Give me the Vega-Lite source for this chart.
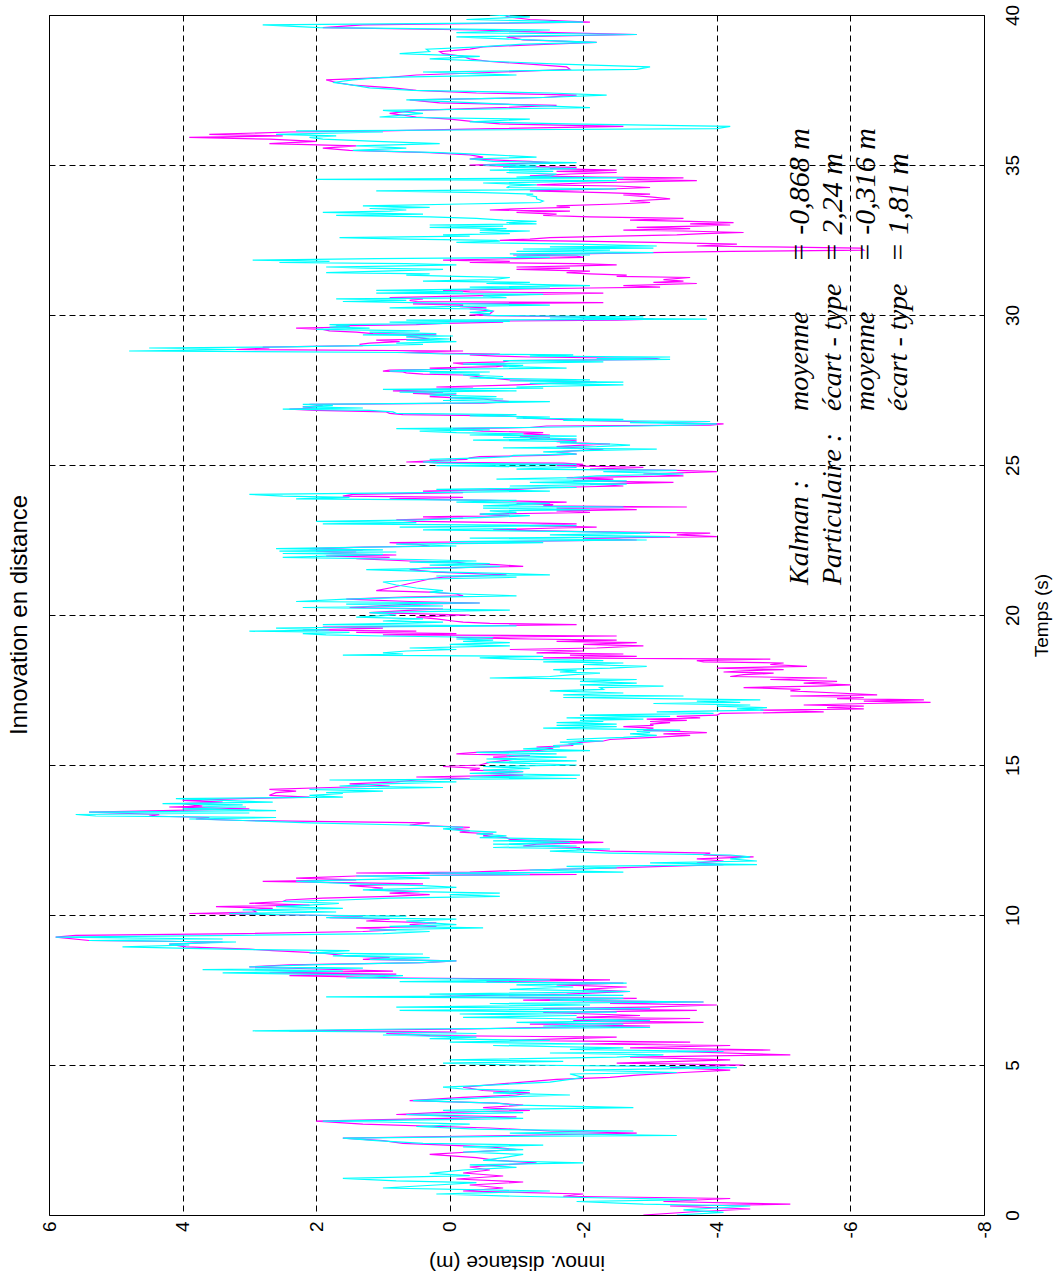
{
"$schema": "https://vega.github.io/schema/vega-lite/v6.json",
"width": 935, "height": 1200,
"autosize": {"type": "none"},
"padding": {"left": 49, "top": 15, "right": 74, "bottom": 59},
"background": "white",
"title": {"text": "Innovation en distance", "orient": "left", "anchor": "middle", "font": "Liberation Sans", "fontSize": 24, "fontWeight": "normal", "color": "black", "offset": 8},
"config": {
 "view": {"stroke": "black", "strokeWidth": 1},
 "axis": {"grid": true, "gridColor": "black", "gridDash": [6, 4], "gridWidth": 1, "gridOpacity": 1, "domain": false, "ticks": false, "labelFont": "Liberation Sans", "labelFontSize": 19, "labelColor": "black", "labelFlush": false, "labelOverlap": false, "titleFont": "Liberation Sans", "titleFontWeight": "normal", "titleColor": "black"},
 "axisX": {"labelAngle": -90, "labelAlign": "right", "labelBaseline": "middle", "labelPadding": 6, "labelExpr": "'' + datum.value", "titleAngle": 180, "titleBaseline": "middle", "titleY": 46, "titleFontSize": 21},
 "axisY": {"labelAngle": -90, "labelAlign": "center", "labelBaseline": "top", "labelPadding": 19, "labelExpr": "'' + datum.value", "titleAngle": -90, "titleBaseline": "middle", "titleX": 57, "titleY": 600, "titleFontSize": 19}
},
"datasets": {
"kalman": [
{"t":0,"v":-2.9},{"t":0.1,"v":-3.6},{"t":0.2,"v":-4.5},{"t":0.3,"v":-3.3},{"t":0.36,"v":-5.1},{"t":0.45,"v":-3.2},{"t":0.55,"v":-4.2},{"t":0.625,"v":-1.7},{"t":0.7,"v":-2.0},{"t":0.8,"v":-0.2},{"t":0.9,"v":-0.8},{"t":1.0,"v":-0.3},{"t":1.1,"v":-1.1},{"t":1.2,"v":-0.1},{"t":1.3,"v":-0.8},{"t":1.4,"v":-0.2},{"t":1.5,"v":-0.6},{"t":1.6,"v":-0.3},{"t":1.74,"v":-1.3},{"t":1.82,"v":-0.7},{"t":1.91,"v":-0.4},{"t":2.02,"v":0.3},{"t":2.1,"v":-0.3},{"t":2.18,"v":-1.0},{"t":2.27,"v":-0.6},{"t":2.39,"v":0.7},{"t":2.48,"v":1.0},{"t":2.56,"v":1.6},{"t":2.65,"v":-0.9},{"t":2.73,"v":-2.8},{"t":2.8,"v":-1.5},{"t":2.9,"v":-0.6},{"t":3.03,"v":1.3},{"t":3.13,"v":2.0},{"t":3.18,"v":1.0},{"t":3.27,"v":-1.0},{"t":3.35,"v":0.8},{"t":3.41,"v":0.2},{"t":3.49,"v":-1.2},{"t":3.58,"v":-0.5},{"t":3.66,"v":-1.1},{"t":3.73,"v":-0.7},{"t":3.81,"v":0.6},{"t":3.92,"v":-0.2},{"t":4.0,"v":-1.0},{"t":4.07,"v":-1.2},{"t":4.15,"v":-0.5},{"t":4.26,"v":-0.2},{"t":4.34,"v":-0.6},{"t":4.43,"v":-1.1},{"t":4.52,"v":-1.6},{"t":4.59,"v":-2.4},{"t":4.66,"v":-2.8},{"t":4.75,"v":-3.5},{"t":4.83,"v":-4.2},{"t":4.91,"v":-3.3},{"t":5.0,"v":-4.4},
{"t":5.06,"v":-2.5},{"t":5.17,"v":-4.2},{"t":5.26,"v":-2.7},{"t":5.34,"v":-5.1},{"t":5.45,"v":-3.4},{"t":5.5,"v":-4.8},{"t":5.57,"v":-2.7},{"t":5.65,"v":-4.2},{"t":5.7,"v":-2.0},{"t":5.76,"v":-3.6},{"t":5.82,"v":-0.9},{"t":5.93,"v":-2.5},{"t":5.98,"v":0.3},{"t":6.05,"v":0.95},{"t":6.1,"v":-0.1},{"t":6.14,"v":2.4},{"t":6.2,"v":-0.3},{"t":6.25,"v":-1.3},{"t":6.3,"v":-3.0},{"t":6.36,"v":-1.2},{"t":6.42,"v":-3.8},{"t":6.48,"v":-1.85},{"t":6.55,"v":-3.6},{"t":6.59,"v":-1.9},{"t":6.65,"v":-2.85},{"t":6.75,"v":-1.4},{"t":6.82,"v":-3.7},{"t":6.88,"v":-1.4},{"t":6.93,"v":-2.95},{"t":7.0,"v":-4.0},{"t":7.05,"v":-2.4},{"t":7.1,"v":-3.8},{"t":7.16,"v":-1.1},{"t":7.22,"v":-2.8},{"t":7.27,"v":0.3},{"t":7.32,"v":-0.5},{"t":7.36,"v":-1.75},{"t":7.45,"v":-2.7},{"t":7.52,"v":-2.0},{"t":7.6,"v":-2.65},{"t":7.67,"v":-1.6},{"t":7.73,"v":-2.6},{"t":7.78,"v":-0.55},{"t":7.84,"v":-2.4},{"t":7.9,"v":0.65},{"t":7.98,"v":2.4},{"t":8.03,"v":0.8},{"t":8.07,"v":2.7},{"t":8.13,"v":0.85},{"t":8.2,"v":2.0},{"t":8.27,"v":3.0},{"t":8.34,"v":2.4},{"t":8.41,"v":0.4},{"t":8.47,"v":-0.1},{"t":8.52,"v":1.3},{"t":8.58,"v":0.9},{"t":8.64,"v":1.55},{"t":8.73,"v":1.9},{"t":8.81,"v":2.65},{"t":8.86,"v":3.0},{"t":8.94,"v":3.95},{"t":9.03,"v":4.2},{"t":9.1,"v":3.4},{"t":9.15,"v":5.4},{"t":9.26,"v":5.9},{"t":9.32,"v":5.6},{"t":9.38,"v":3.1},{"t":9.45,"v":1.3},{"t":9.5,"v":0.8},{"t":9.57,"v":1.4},{"t":9.62,"v":0.2},{"t":9.68,"v":0.6},{"t":9.74,"v":0.2},{"t":9.8,"v":1.25},{"t":9.86,"v":0.9},{"t":9.91,"v":1.8},{"t":9.96,"v":1.3},{"t":10.0,"v":2.3},
{"t":10.05,"v":3.9},{"t":10.1,"v":2.9},{"t":10.17,"v":2.95},{"t":10.22,"v":2.65},{"t":10.28,"v":3.5},{"t":10.33,"v":2.1},{"t":10.39,"v":3.0},{"t":10.45,"v":2.5},{"t":10.5,"v":2.45},{"t":10.56,"v":1.9},{"t":10.62,"v":0.9},{"t":10.68,"v":0.3},{"t":10.73,"v":0.9},{"t":10.78,"v":0.45},{"t":10.84,"v":1.2},{"t":10.9,"v":1.0},{"t":10.98,"v":1.5},{"t":11.04,"v":0.4},{"t":11.12,"v":2.8},{"t":11.17,"v":1.4},{"t":11.23,"v":2.3},{"t":11.3,"v":1.4},{"t":11.35,"v":-1.9},{"t":11.4,"v":1.4},{"t":11.43,"v":-0.3},{"t":11.5,"v":-1.2},{"t":11.57,"v":-2.5},{"t":11.62,"v":-3.2},{"t":11.68,"v":-4.1},{"t":11.74,"v":-3.7},{"t":11.8,"v":-4.1},{"t":11.87,"v":-3.7},{"t":11.94,"v":-4.55},{"t":12.0,"v":-3.8},{"t":12.06,"v":-3.9},{"t":12.13,"v":-2.4},{"t":12.2,"v":-1.9},{"t":12.25,"v":-1.95},{"t":12.3,"v":-1.1},{"t":12.36,"v":-1.3},{"t":12.42,"v":-2.3},{"t":12.47,"v":-1.4},{"t":12.52,"v":-0.9},{"t":12.58,"v":-0.85},{"t":12.64,"v":-0.5},{"t":12.7,"v":-0.65},{"t":12.76,"v":-0.15},{"t":12.81,"v":-0.3},{"t":12.87,"v":0.0},{"t":12.92,"v":-0.3},{"t":13.0,"v":0.6},{"t":13.07,"v":0.3},{"t":13.15,"v":3.1},{"t":13.2,"v":3.8},{"t":13.25,"v":3.6},{"t":13.3,"v":4.5},{"t":13.35,"v":4.35},{"t":13.43,"v":5.4},{"t":13.48,"v":4.3},{"t":13.54,"v":3.0},{"t":13.6,"v":4.2},{"t":13.63,"v":3.7},{"t":13.71,"v":4.0},{"t":13.76,"v":3.4},{"t":13.82,"v":4.0},{"t":13.88,"v":3.1},{"t":13.93,"v":2.1},{"t":13.99,"v":2.7},{"t":14.08,"v":2.6},{"t":14.13,"v":2.3},{"t":14.19,"v":2.7},{"t":14.25,"v":1.8},{"t":14.3,"v":0.9},{"t":14.37,"v":1.5},{"t":14.44,"v":0.8},{"t":14.5,"v":0.5},{"t":14.55,"v":-0.3},{"t":14.6,"v":0.5},{"t":14.66,"v":-1.1},{"t":14.72,"v":-0.6},{"t":14.78,"v":-1.1},{"t":14.83,"v":-0.3},{"t":14.89,"v":-0.45},{"t":14.95,"v":0.1},{"t":15.0,"v":-0.45},
{"t":15.09,"v":-0.6},{"t":15.2,"v":-1.0},{"t":15.26,"v":-0.65},{"t":15.31,"v":-1.2},{"t":15.37,"v":-0.1},{"t":15.42,"v":-0.4},{"t":15.48,"v":-1.3},{"t":15.54,"v":-1.55},{"t":15.6,"v":-1.3},{"t":15.65,"v":-1.85},{"t":15.7,"v":-1.8},{"t":15.76,"v":-2.0},{"t":15.8,"v":-2.3},{"t":15.85,"v":-2.4},{"t":15.92,"v":-3.05},{"t":15.99,"v":-3.6},{"t":16.04,"v":-3.2},{"t":16.08,"v":-3.85},{"t":16.12,"v":-3.4},{"t":16.16,"v":-2.9},{"t":16.23,"v":-3.05},{"t":16.28,"v":-2.6},{"t":16.32,"v":-3.05},{"t":16.36,"v":-3.0},{"t":16.41,"v":-3.3},{"t":16.45,"v":-3.0},{"t":16.49,"v":-3.55},{"t":16.53,"v":-2.95},{"t":16.57,"v":-3.75},{"t":16.62,"v":-3.4},{"t":16.66,"v":-4.0},{"t":16.72,"v":-4.05},{"t":16.77,"v":-5.6},{"t":16.83,"v":-4.65},{"t":16.87,"v":-6.2},{"t":16.91,"v":-5.65},{"t":16.96,"v":-6.2},{"t":17.0,"v":-5.3},{"t":17.05,"v":-6.25},{"t":17.09,"v":-7.2},{"t":17.13,"v":-6.2},{"t":17.17,"v":-7.1},{"t":17.21,"v":-5.8},{"t":17.25,"v":-6.2},{"t":17.3,"v":-5.1},{"t":17.34,"v":-6.4},{"t":17.4,"v":-5.8},{"t":17.47,"v":-5.1},{"t":17.52,"v":-5.25},{"t":17.58,"v":-4.4},{"t":17.63,"v":-5.5},{"t":17.67,"v":-6.0},{"t":17.73,"v":-5.3},{"t":17.79,"v":-5.8},{"t":17.85,"v":-4.8},{"t":17.9,"v":-5.65},{"t":17.95,"v":-4.2},{"t":18.01,"v":-4.4},{"t":18.06,"v":-4.85},{"t":18.1,"v":-4.1},{"t":18.14,"v":-4.4},{"t":18.18,"v":-5.0},{"t":18.23,"v":-4.0},{"t":18.29,"v":-5.35},{"t":18.35,"v":-4.8},{"t":18.4,"v":-5.0},{"t":18.44,"v":-3.8},{"t":18.48,"v":-3.7},{"t":18.53,"v":-4.8},{"t":18.57,"v":-1.4},{"t":18.62,"v":-2.8},{"t":18.66,"v":-1.8},{"t":18.7,"v":-2.6},{"t":18.74,"v":-1.3},{"t":18.8,"v":-2.0},{"t":18.85,"v":-0.9},{"t":18.9,"v":-2.2},{"t":18.97,"v":-2.9},{"t":19.02,"v":-2.0},{"t":19.08,"v":-2.8},{"t":19.12,"v":-1.6},{"t":19.16,"v":-2.5},{"t":19.2,"v":-1.2},{"t":19.25,"v":-0.1},{"t":19.3,"v":-2.5},{"t":19.34,"v":1.0},{"t":19.38,"v":-0.1},{"t":19.42,"v":1.4},{"t":19.46,"v":0.5},{"t":19.5,"v":2.2},{"t":19.56,"v":1.0},{"t":19.6,"v":1.9},{"t":19.64,"v":-0.2},{"t":19.68,"v":-1.9},{"t":19.72,"v":-0.6},{"t":19.76,"v":-0.2},{"t":19.8,"v":-0.05},{"t":19.87,"v":0.2},{"t":19.93,"v":0.5},{"t":20.0,"v":-0.3},
{"t":20.08,"v":1.2},{"t":20.16,"v":0.55},{"t":20.2,"v":0.1},{"t":20.25,"v":1.5},{"t":20.3,"v":1.1},{"t":20.36,"v":0.55},{"t":20.4,"v":-0.45},{"t":20.45,"v":0.6},{"t":20.53,"v":1.55},{"t":20.6,"v":0.7},{"t":20.64,"v":-0.2},{"t":20.7,"v":-0.1},{"t":20.76,"v":0.3},{"t":20.81,"v":1.1},{"t":20.9,"v":0.9},{"t":21.0,"v":0.7},{"t":21.1,"v":0.5},{"t":21.2,"v":0.3},{"t":21.26,"v":0.1},{"t":21.34,"v":-0.85},{"t":21.43,"v":0.2},{"t":21.51,"v":0.6},{"t":21.56,"v":0.4},{"t":21.62,"v":-1.1},{"t":21.68,"v":-0.7},{"t":21.71,"v":-0.25},{"t":21.76,"v":-0.1},{"t":21.8,"v":0.6},{"t":21.88,"v":1.4},{"t":21.92,"v":0.9},{"t":21.96,"v":1.85},{"t":22.0,"v":0.8},{"t":22.05,"v":1.9},{"t":22.1,"v":1.4},{"t":22.13,"v":2.0},{"t":22.17,"v":1.3},{"t":22.21,"v":2.1},{"t":22.26,"v":1.3},{"t":22.3,"v":0.3},{"t":22.36,"v":0.5},{"t":22.41,"v":0.9},{"t":22.45,"v":-0.9},{"t":22.5,"v":-2.8},{"t":22.56,"v":-2.0},{"t":22.61,"v":-4.0},{"t":22.67,"v":-3.4},{"t":22.73,"v":-3.9},{"t":22.78,"v":-2.0},{"t":22.84,"v":-0.65},{"t":22.9,"v":-1.6},{"t":22.93,"v":-2.2},{"t":22.98,"v":-1.2},{"t":23.04,"v":-1.9},{"t":23.08,"v":-0.9},{"t":23.12,"v":0.5},{"t":23.17,"v":0.8},{"t":23.23,"v":-0.2},{"t":23.27,"v":0.4},{"t":23.31,"v":-0.9},{"t":23.36,"v":-0.45},{"t":23.42,"v":-2.1},{"t":23.47,"v":-1.6},{"t":23.51,"v":-2.8},{"t":23.56,"v":-1.6},{"t":23.6,"v":-3.55},{"t":23.64,"v":-1.4},{"t":23.68,"v":-1.55},{"t":23.72,"v":-1.0},{"t":23.76,"v":-1.75},{"t":23.82,"v":-0.6},{"t":23.87,"v":0.9},{"t":23.92,"v":-0.2},{"t":23.96,"v":1.6},{"t":24.02,"v":1.45},{"t":24.08,"v":-0.2},{"t":24.13,"v":0.4},{"t":24.19,"v":-1.0},{"t":24.25,"v":-1.5},{"t":24.3,"v":-2.6},{"t":24.36,"v":-2.1},{"t":24.42,"v":-3.35},{"t":24.47,"v":-1.85},{"t":24.53,"v":-2.45},{"t":24.58,"v":-1.75},{"t":24.64,"v":-3.5},{"t":24.7,"v":-2.9},{"t":24.78,"v":-4.0},{"t":24.82,"v":-3.4},{"t":24.86,"v":-2.1},{"t":24.92,"v":-2.9},{"t":24.98,"v":-1.6},
{"t":25.02,"v":-2.0},{"t":25.06,"v":-1.7},{"t":25.1,"v":0.65},{"t":25.15,"v":0.2},{"t":25.19,"v":-0.25},{"t":25.24,"v":-0.3},{"t":25.28,"v":-0.45},{"t":25.32,"v":-1.4},{"t":25.36,"v":-1.9},{"t":25.44,"v":-1.6},{"t":25.53,"v":-2.3},{"t":25.57,"v":-1.9},{"t":25.61,"v":-1.6},{"t":25.66,"v":-2.0},{"t":25.7,"v":-2.4},{"t":25.74,"v":-1.9},{"t":25.78,"v":-1.6},{"t":25.83,"v":-1.9},{"t":25.87,"v":-1.2},{"t":25.92,"v":-1.5},{"t":25.96,"v":-1.05},{"t":26.0,"v":-1.5},{"t":26.04,"v":-1.1},{"t":26.08,"v":-1.4},{"t":26.13,"v":-0.5},{"t":26.17,"v":-0.2},{"t":26.21,"v":-0.05},{"t":26.25,"v":-1.2},{"t":26.3,"v":-1.45},{"t":26.33,"v":-3.9},{"t":26.37,"v":-4.1},{"t":26.41,"v":-3.2},{"t":26.45,"v":-2.65},{"t":26.49,"v":-2.0},{"t":26.52,"v":-1.65},{"t":26.56,"v":-1.1},{"t":26.6,"v":-1.15},{"t":26.64,"v":-0.8},{"t":26.68,"v":0.7},{"t":26.72,"v":0.9},{"t":26.77,"v":0.95},{"t":26.82,"v":2.0},{"t":26.86,"v":2.4},{"t":26.9,"v":2.0},{"t":26.94,"v":2.2},{"t":26.98,"v":1.9},{"t":27.02,"v":2.1},{"t":27.06,"v":-0.5},{"t":27.11,"v":-0.9},{"t":27.15,"v":-0.7},{"t":27.2,"v":-0.5},{"t":27.24,"v":-0.1},{"t":27.28,"v":0.3},{"t":27.33,"v":-0.1},{"t":27.39,"v":0.55},{"t":27.43,"v":0.1},{"t":27.47,"v":0.85},{"t":27.52,"v":0.2},{"t":27.56,"v":-0.35},{"t":27.6,"v":0.2},{"t":27.67,"v":-1.0},{"t":27.72,"v":-1.5},{"t":27.76,"v":-2.2},{"t":27.8,"v":-1.7},{"t":27.84,"v":-0.9},{"t":27.9,"v":-0.6},{"t":27.95,"v":-0.4},{"t":28.0,"v":-0.2},{"t":28.03,"v":0.4},{"t":28.07,"v":0.65},{"t":28.1,"v":0.7},{"t":28.13,"v":1.0},{"t":28.16,"v":0.9},{"t":28.2,"v":-0.1},{"t":28.23,"v":0.3},{"t":28.28,"v":-0.7},{"t":28.32,"v":-0.85},{"t":28.36,"v":-0.2},{"t":28.4,"v":-0.05},{"t":28.44,"v":-0.8},{"t":28.48,"v":-0.9},{"t":28.52,"v":-3.15},{"t":28.55,"v":-3.1},{"t":28.6,"v":-1.2},{"t":28.63,"v":-0.7},{"t":28.67,"v":-0.3},{"t":28.7,"v":-0.75},{"t":28.75,"v":0.8},{"t":28.8,"v":-0.2},{"t":28.85,"v":3.2},{"t":28.9,"v":2.7},{"t":28.93,"v":2.8},{"t":28.98,"v":1.3},{"t":29.02,"v":1.35},{"t":29.06,"v":1.2},{"t":29.11,"v":0.75},{"t":29.16,"v":1.1},{"t":29.2,"v":0.3},{"t":29.26,"v":0.5},{"t":29.3,"v":0.65},{"t":29.34,"v":0.2},{"t":29.38,"v":1.15},{"t":29.43,"v":1.4},{"t":29.47,"v":1.8},{"t":29.52,"v":1.9},{"t":29.56,"v":2.3},{"t":29.6,"v":1.5},{"t":29.64,"v":1.7},{"t":29.68,"v":0.5},{"t":29.72,"v":0.1},{"t":29.76,"v":-0.8},{"t":29.79,"v":-0.3},{"t":29.83,"v":-2.5},{"t":29.86,"v":-3.05},{"t":29.9,"v":-2.0},{"t":29.94,"v":-1.9},{"t":29.98,"v":-0.6},
{"t":30.0,"v":-0.3},{"t":30.04,"v":-0.6},{"t":30.13,"v":-0.65},{"t":30.2,"v":-0.3},{"t":30.24,"v":-0.55},{"t":30.28,"v":-0.15},{"t":30.33,"v":-0.2},{"t":30.37,"v":0.55},{"t":30.41,"v":-2.3},{"t":30.45,"v":0.5},{"t":30.49,"v":0.6},{"t":30.54,"v":0.4},{"t":30.58,"v":0.9},{"t":30.64,"v":-0.3},{"t":30.69,"v":-1.2},{"t":30.73,"v":-2.3},{"t":30.77,"v":-0.3},{"t":30.82,"v":0.1},{"t":30.86,"v":-0.85},{"t":30.9,"v":-2.1},{"t":30.93,"v":-3.15},{"t":30.98,"v":-2.6},{"t":31.05,"v":-3.7},{"t":31.09,"v":-3.05},{"t":31.13,"v":-3.5},{"t":31.18,"v":-3.2},{"t":31.25,"v":-3.6},{"t":31.29,"v":-2.5},{"t":31.33,"v":-2.65},{"t":31.37,"v":-2.1},{"t":31.41,"v":-1.75},{"t":31.46,"v":-2.1},{"t":31.52,"v":-1.0},{"t":31.56,"v":-1.8},{"t":31.6,"v":-1.0},{"t":31.64,"v":-1.9},{"t":31.67,"v":-2.5},{"t":31.71,"v":-1.9},{"t":31.75,"v":-0.3},{"t":31.79,"v":-0.9},{"t":31.83,"v":0.1},{"t":31.88,"v":-1.0},{"t":31.92,"v":-2.0},{"t":31.96,"v":-1.9},{"t":32.0,"v":-0.95},{"t":32.04,"v":-1.9},{"t":32.08,"v":-3.0},{"t":32.12,"v":-4.2},{"t":32.16,"v":-6.2},{"t":32.23,"v":-6.15},{"t":32.27,"v":-4.8},{"t":32.3,"v":-3.7},{"t":32.36,"v":-4.3},{"t":32.42,"v":-3.05},{"t":32.46,"v":-1.9},{"t":32.49,"v":-0.75},{"t":32.53,"v":-1.2},{"t":32.58,"v":-1.5},{"t":32.63,"v":-2.5},{"t":32.67,"v":-3.4},{"t":32.71,"v":-3.8},{"t":32.75,"v":-4.4},{"t":32.8,"v":-3.5},{"t":32.83,"v":-2.6},{"t":32.88,"v":-3.6},{"t":32.92,"v":-2.8},{"t":32.96,"v":-3.7},{"t":33.0,"v":-4.2},{"t":33.04,"v":-3.6},{"t":33.08,"v":-4.25},{"t":33.12,"v":-3.6},{"t":33.16,"v":-2.7},{"t":33.22,"v":-3.5},{"t":33.27,"v":-2.1},{"t":33.32,"v":-1.4},{"t":33.36,"v":-1.6},{"t":33.42,"v":-1.0},{"t":33.46,"v":-1.8},{"t":33.5,"v":-0.6},{"t":33.55,"v":-1.1},{"t":33.59,"v":-1.8},{"t":33.64,"v":-1.6},{"t":33.7,"v":-2.5},{"t":33.75,"v":-3.0},{"t":33.8,"v":-2.7},{"t":33.87,"v":-3.3},{"t":33.94,"v":-3.0},{"t":34.0,"v":-2.6},{"t":34.03,"v":-3.0},{"t":34.08,"v":-2.3},{"t":34.14,"v":-1.2},{"t":34.2,"v":-2.4},{"t":34.25,"v":-3.0},{"t":34.3,"v":-2.5},{"t":34.34,"v":-1.3},{"t":34.4,"v":-2.0},{"t":34.48,"v":-3.7},{"t":34.52,"v":-2.5},{"t":34.57,"v":-3.5},{"t":34.6,"v":-2.2},{"t":34.64,"v":-1.2},{"t":34.7,"v":-1.8},{"t":34.75,"v":-2.5},{"t":34.79,"v":-1.6},{"t":34.83,"v":-2.5},{"t":34.88,"v":-1.5},{"t":34.92,"v":-1.9},{"t":34.96,"v":-0.8},{"t":35.0,"v":-0.3},
{"t":35.08,"v":-1.5},{"t":35.12,"v":-1.2},{"t":35.2,"v":-0.3},{"t":35.26,"v":-0.5},{"t":35.34,"v":-0.3},{"t":35.41,"v":0.3},{"t":35.49,"v":1.5},{"t":35.56,"v":1.9},{"t":35.64,"v":1.4},{"t":35.71,"v":2.7},{"t":35.79,"v":2.0},{"t":35.86,"v":2.7},{"t":35.92,"v":3.9},{"t":35.97,"v":2.5},{"t":36.02,"v":3.6},{"t":36.1,"v":2.4},{"t":36.14,"v":1.0},{"t":36.21,"v":-0.65},{"t":36.29,"v":-2.6},{"t":36.37,"v":-0.75},{"t":36.44,"v":-0.4},{"t":36.53,"v":0.0},{"t":36.6,"v":0.5},{"t":36.72,"v":0.9},{"t":36.82,"v":0.5},{"t":36.91,"v":-0.75},{"t":36.99,"v":-1.6},{"t":37.07,"v":0.15},{"t":37.17,"v":0.6},{"t":37.25,"v":-1.4},{"t":37.33,"v":-1.9},{"t":37.4,"v":-0.4},{"t":37.49,"v":0.5},{"t":37.57,"v":0.85},{"t":37.66,"v":1.45},{"t":37.75,"v":1.7},{"t":37.84,"v":1.85},{"t":37.92,"v":0.9},{"t":38.0,"v":0.5},{"t":38.1,"v":-0.8},{"t":38.19,"v":-1.8},{"t":38.27,"v":-1.75},{"t":38.36,"v":-1.2},{"t":38.45,"v":-0.6},{"t":38.54,"v":-0.3},{"t":38.62,"v":-0.2},{"t":38.71,"v":0.1},{"t":38.78,"v":0.15},{"t":38.86,"v":-0.3},{"t":38.94,"v":-0.5},{"t":39.03,"v":-1.5},{"t":39.09,"v":-2.2},{"t":39.17,"v":-1.1},{"t":39.27,"v":-0.85},{"t":39.35,"v":-2.8},{"t":39.41,"v":-1.6},{"t":39.5,"v":-0.4},{"t":39.58,"v":1.9},{"t":39.67,"v":1.3},{"t":39.76,"v":-2.1},{"t":39.85,"v":-1.2},{"t":39.94,"v":-0.85},{"t":40.0,"v":-0.9}
],
"part": [
{"t":0,"v":-3.4},{"t":0.09,"v":-4.1},{"t":0.17,"v":-3.5},{"t":0.3,"v":-4.5},{"t":0.36,"v":-2.9},{"t":0.45,"v":-1.9},{"t":0.51,"v":-3.7},{"t":0.625,"v":-1.0},{"t":0.7,"v":0.2},{"t":0.8,"v":-1.5},{"t":0.9,"v":1.0},{"t":1.0,"v":0.2},{"t":1.08,"v":-0.4},{"t":1.14,"v":0.8},{"t":1.22,"v":1.6},{"t":1.31,"v":-0.3},{"t":1.39,"v":0.3},{"t":1.5,"v":-0.2},{"t":1.59,"v":-1.0},{"t":1.67,"v":-0.3},{"t":1.74,"v":-2.0},{"t":1.82,"v":-0.5},{"t":1.91,"v":-0.8},{"t":2.02,"v":-1.1},{"t":2.1,"v":-0.2},{"t":2.18,"v":-1.1},{"t":2.27,"v":-0.2},{"t":2.33,"v":-1.4},{"t":2.39,"v":0.4},{"t":2.48,"v":1.1},{"t":2.56,"v":1.6},{"t":2.62,"v":-0.9},{"t":2.65,"v":-3.4},{"t":2.73,"v":-0.9},{"t":2.8,"v":-2.75},{"t":2.86,"v":-0.4},{"t":2.95,"v":0.5},{"t":3.03,"v":-0.3},{"t":3.1,"v":1.0},{"t":3.13,"v":1.9},{"t":3.18,"v":0.1},{"t":3.22,"v":-1.1},{"t":3.27,"v":-0.2},{"t":3.35,"v":0.65},{"t":3.41,"v":-1.1},{"t":3.49,"v":0.1},{"t":3.54,"v":-1.3},{"t":3.58,"v":-2.75},{"t":3.66,"v":-1.0},{"t":3.73,"v":-0.7},{"t":3.81,"v":0.55},{"t":3.87,"v":-0.2},{"t":3.92,"v":-0.6},{"t":4.0,"v":-1.8},{"t":4.07,"v":-0.65},{"t":4.15,"v":-1.2},{"t":4.2,"v":-0.2},{"t":4.26,"v":0.1},{"t":4.34,"v":-0.7},{"t":4.43,"v":-1.5},{"t":4.52,"v":-1.8},{"t":4.59,"v":-2.0},{"t":4.7,"v":-1.8},{"t":4.75,"v":-3.4},{"t":4.83,"v":-2.0},{"t":4.91,"v":-4.3},{"t":4.96,"v":-2.7},{"t":5.0,"v":-1.0},
{"t":5.06,"v":0.1},{"t":5.12,"v":-1.7},{"t":5.17,"v":0.0},{"t":5.26,"v":-2.5},{"t":5.34,"v":-3.2},{"t":5.4,"v":-1.5},{"t":5.45,"v":-4.1},{"t":5.52,"v":-1.8},{"t":5.57,"v":-2.6},{"t":5.65,"v":-0.65},{"t":5.7,"v":-2.1},{"t":5.76,"v":0.0},{"t":5.82,"v":-1.5},{"t":5.88,"v":0.3},{"t":5.93,"v":-0.4},{"t":6.0,"v":1.0},{"t":6.05,"v":-0.4},{"t":6.1,"v":1.0},{"t":6.14,"v":2.95},{"t":6.2,"v":0.7},{"t":6.25,"v":-3.0},{"t":6.3,"v":-1.4},{"t":6.36,"v":-2.6},{"t":6.42,"v":-1.0},{"t":6.48,"v":-3.0},{"t":6.55,"v":-1.5},{"t":6.59,"v":-0.2},{"t":6.65,"v":-1.9},{"t":6.7,"v":-0.15},{"t":6.76,"v":-2.5},{"t":6.82,"v":0.75},{"t":6.88,"v":-3.0},{"t":6.93,"v":0.8},{"t":7.0,"v":-2.1},{"t":7.05,"v":-0.6},{"t":7.1,"v":-3.8},{"t":7.16,"v":-1.5},{"t":7.22,"v":-2.6},{"t":7.27,"v":1.85},{"t":7.32,"v":-2.6},{"t":7.36,"v":0.3},{"t":7.45,"v":-2.7},{"t":7.52,"v":-0.9},{"t":7.6,"v":-1.85},{"t":7.67,"v":-1.0},{"t":7.73,"v":-2.65},{"t":7.78,"v":0.75},{"t":7.84,"v":-1.5},{"t":7.9,"v":1.55},{"t":7.98,"v":0.7},{"t":8.07,"v":3.4},{"t":8.13,"v":1.6},{"t":8.18,"v":3.7},{"t":8.23,"v":1.3},{"t":8.27,"v":3.0},{"t":8.34,"v":2.1},{"t":8.41,"v":0.45},{"t":8.47,"v":-0.1},{"t":8.52,"v":1.2},{"t":8.58,"v":0.3},{"t":8.64,"v":1.75},{"t":8.7,"v":0.4},{"t":8.73,"v":2.1},{"t":8.81,"v":1.5},{"t":8.86,"v":3.4},{"t":8.94,"v":4.9},{"t":9.0,"v":3.9},{"t":9.03,"v":4.2},{"t":9.1,"v":3.2},{"t":9.15,"v":5.4},{"t":9.2,"v":3.4},{"t":9.26,"v":5.9},{"t":9.32,"v":3.2},{"t":9.38,"v":1.0},{"t":9.45,"v":0.3},{"t":9.5,"v":1.2},{"t":9.57,"v":-0.5},{"t":9.62,"v":0.9},{"t":9.68,"v":-0.1},{"t":9.74,"v":0.3},{"t":9.8,"v":0.65},{"t":9.86,"v":-0.1},{"t":9.91,"v":1.85},{"t":9.96,"v":0.65},{"t":10.0,"v":2.3},
{"t":10.05,"v":3.3},{"t":10.1,"v":1.7},{"t":10.17,"v":3.1},{"t":10.22,"v":1.6},{"t":10.28,"v":2.6},{"t":10.33,"v":2.1},{"t":10.39,"v":1.66},{"t":10.45,"v":2.5},{"t":10.5,"v":1.6},{"t":10.56,"v":0.9},{"t":10.62,"v":-0.75},{"t":10.68,"v":0.0},{"t":10.73,"v":-0.75},{"t":10.78,"v":0.5},{"t":10.84,"v":1.3},{"t":10.92,"v":-0.1},{"t":10.98,"v":0.4},{"t":11.04,"v":1.4},{"t":11.12,"v":2.3},{"t":11.17,"v":1.5},{"t":11.23,"v":0.3},{"t":11.3,"v":1.4},{"t":11.35,"v":-1.2},{"t":11.4,"v":0.3},{"t":11.43,"v":-2.6},{"t":11.5,"v":-1.2},{"t":11.57,"v":-2.5},{"t":11.62,"v":-1.75},{"t":11.68,"v":-4.6},{"t":11.74,"v":-3.0},{"t":11.8,"v":-4.6},{"t":11.87,"v":-4.2},{"t":11.94,"v":-4.5},{"t":12.0,"v":-4.2},{"t":12.06,"v":-2.4},{"t":12.13,"v":-1.5},{"t":12.2,"v":-2.4},{"t":12.25,"v":-0.65},{"t":12.3,"v":-1.9},{"t":12.36,"v":-0.65},{"t":12.42,"v":-1.8},{"t":12.47,"v":-0.65},{"t":12.52,"v":-2.0},{"t":12.58,"v":-0.45},{"t":12.64,"v":-0.85},{"t":12.7,"v":-0.4},{"t":12.76,"v":-0.7},{"t":12.81,"v":-0.2},{"t":12.87,"v":0.1},{"t":12.92,"v":-0.2},{"t":13.0,"v":0.65},{"t":13.07,"v":2.1},{"t":13.15,"v":3.1},{"t":13.2,"v":3.9},{"t":13.25,"v":2.6},{"t":13.3,"v":5.3},{"t":13.35,"v":5.6},{"t":13.4,"v":3.0},{"t":13.43,"v":5.4},{"t":13.48,"v":2.6},{"t":13.54,"v":4.0},{"t":13.6,"v":3.05},{"t":13.63,"v":3.7},{"t":13.67,"v":3.1},{"t":13.71,"v":4.3},{"t":13.76,"v":2.65},{"t":13.82,"v":3.4},{"t":13.88,"v":4.1},{"t":13.93,"v":1.6},{"t":13.99,"v":2.1},{"t":14.05,"v":1.6},{"t":14.08,"v":1.85},{"t":14.13,"v":1.0},{"t":14.19,"v":2.1},{"t":14.25,"v":0.1},{"t":14.3,"v":1.65},{"t":14.37,"v":1.0},{"t":14.44,"v":-0.1},{"t":14.5,"v":1.8},{"t":14.55,"v":-1.9},{"t":14.6,"v":-0.3},{"t":14.66,"v":-1.95},{"t":14.72,"v":-0.3},{"t":14.78,"v":-1.1},{"t":14.83,"v":-0.5},{"t":14.89,"v":-1.2},{"t":14.95,"v":-0.5},{"t":15.0,"v":-1.9},
{"t":15.09,"v":-0.55},{"t":15.14,"v":-1.9},{"t":15.2,"v":-0.55},{"t":15.26,"v":-1.75},{"t":15.31,"v":-0.85},{"t":15.37,"v":-1.6},{"t":15.42,"v":-0.4},{"t":15.48,"v":-2.1},{"t":15.54,"v":-1.1},{"t":15.6,"v":-1.65},{"t":15.65,"v":-1.55},{"t":15.7,"v":-2.0},{"t":15.76,"v":-1.65},{"t":15.8,"v":-2.3},{"t":15.85,"v":-1.75},{"t":15.92,"v":-2.6},{"t":15.99,"v":-3.1},{"t":16.04,"v":-2.7},{"t":16.08,"v":-3.0},{"t":16.12,"v":-2.8},{"t":16.16,"v":-3.45},{"t":16.23,"v":-1.4},{"t":16.28,"v":-2.5},{"t":16.32,"v":-1.6},{"t":16.36,"v":-2.5},{"t":16.41,"v":-1.6},{"t":16.45,"v":-2.3},{"t":16.49,"v":-1.95},{"t":16.53,"v":-2.9},{"t":16.57,"v":-1.75},{"t":16.62,"v":-3.3},{"t":16.66,"v":-1.95},{"t":16.72,"v":-3.95},{"t":16.77,"v":-3.1},{"t":16.83,"v":-4.7},{"t":16.87,"v":-4.3},{"t":16.91,"v":-4.75},{"t":16.96,"v":-4.0},{"t":17.0,"v":-4.5},{"t":17.05,"v":-3.05},{"t":17.09,"v":-4.35},{"t":17.13,"v":-3.7},{"t":17.17,"v":-4.65},{"t":17.21,"v":-3.1},{"t":17.25,"v":-1.7},{"t":17.3,"v":-3.5},{"t":17.34,"v":-1.7},{"t":17.4,"v":-2.6},{"t":17.47,"v":-1.5},{"t":17.52,"v":-2.3},{"t":17.58,"v":-2.25},{"t":17.63,"v":-3.2},{"t":17.67,"v":-1.95},{"t":17.73,"v":-2.8},{"t":17.79,"v":-1.95},{"t":17.85,"v":-2.8},{"t":17.9,"v":-0.6},{"t":17.95,"v":-1.5},{"t":18.01,"v":-1.85},{"t":18.06,"v":-2.25},{"t":18.1,"v":-1.65},{"t":18.14,"v":-1.9},{"t":18.18,"v":-1.55},{"t":18.23,"v":-2.4},{"t":18.29,"v":-2.95},{"t":18.35,"v":-2.0},{"t":18.4,"v":-2.6},{"t":18.44,"v":-1.4},{"t":18.48,"v":-2.3},{"t":18.53,"v":-1.0},{"t":18.57,"v":-0.45},{"t":18.62,"v":-1.4},{"t":18.66,"v":1.6},{"t":18.7,"v":0.7},{"t":18.74,"v":1.0},{"t":18.8,"v":0.65},{"t":18.85,"v":-0.1},{"t":18.9,"v":0.6},{"t":18.97,"v":-0.9},{"t":19.02,"v":0.0},{"t":19.08,"v":-0.9},{"t":19.12,"v":-0.2},{"t":19.16,"v":-0.65},{"t":19.2,"v":-0.1},{"t":19.25,"v":-0.65},{"t":19.3,"v":1.0},{"t":19.34,"v":1.85},{"t":19.38,"v":2.2},{"t":19.42,"v":1.5},{"t":19.46,"v":3.0},{"t":19.5,"v":1.8},{"t":19.56,"v":2.6},{"t":19.6,"v":1.3},{"t":19.64,"v":-1.0},{"t":19.68,"v":1.9},{"t":19.72,"v":0.75},{"t":19.76,"v":0.1},{"t":19.8,"v":1.0},{"t":19.87,"v":0.4},{"t":19.93,"v":1.4},{"t":20.0,"v":0.8},
{"t":20.08,"v":1.2},{"t":20.16,"v":-0.9},{"t":20.2,"v":0.4},{"t":20.25,"v":2.2},{"t":20.3,"v":0.1},{"t":20.36,"v":1.55},{"t":20.4,"v":-0.45},{"t":20.45,"v":2.3},{"t":20.53,"v":1.55},{"t":20.58,"v":0.7},{"t":20.64,"v":-1.0},{"t":20.7,"v":-0.2},{"t":20.76,"v":0.3},{"t":20.81,"v":0.1},{"t":20.9,"v":0.5},{"t":21.0,"v":0.8},{"t":21.1,"v":1.0},{"t":21.2,"v":0.3},{"t":21.26,"v":-1.0},{"t":21.3,"v":0.2},{"t":21.34,"v":-1.5},{"t":21.43,"v":0.0},{"t":21.51,"v":1.25},{"t":21.56,"v":0.0},{"t":21.62,"v":-0.75},{"t":21.66,"v":0.3},{"t":21.71,"v":-0.6},{"t":21.76,"v":0.6},{"t":21.8,"v":-0.4},{"t":21.85,"v":0.5},{"t":21.92,"v":2.5},{"t":21.96,"v":1.8},{"t":22.02,"v":1.0},{"t":22.05,"v":2.5},{"t":22.1,"v":0.8},{"t":22.13,"v":2.55},{"t":22.17,"v":1.0},{"t":22.21,"v":2.6},{"t":22.26,"v":1.2},{"t":22.3,"v":-0.1},{"t":22.36,"v":0.8},{"t":22.41,"v":-1.4},{"t":22.45,"v":0.0},{"t":22.5,"v":-2.95},{"t":22.56,"v":-0.3},{"t":22.61,"v":-3.3},{"t":22.67,"v":-1.5},{"t":22.73,"v":-3.0},{"t":22.78,"v":-1.9},{"t":22.84,"v":0.4},{"t":22.88,"v":-1.0},{"t":22.93,"v":0.75},{"t":22.98,"v":-1.9},{"t":23.04,"v":1.9},{"t":23.08,"v":0.5},{"t":23.12,"v":2.0},{"t":23.17,"v":0.4},{"t":23.23,"v":-0.2},{"t":23.27,"v":-0.75},{"t":23.31,"v":-1.2},{"t":23.36,"v":-0.45},{"t":23.42,"v":-1.0},{"t":23.47,"v":-0.6},{"t":23.51,"v":-2.1},{"t":23.56,"v":-0.5},{"t":23.6,"v":-2.6},{"t":23.64,"v":-0.5},{"t":23.68,"v":-1.0},{"t":23.72,"v":-1.5},{"t":23.76,"v":-0.1},{"t":23.82,"v":-1.0},{"t":23.87,"v":2.3},{"t":23.92,"v":1.5},{"t":23.96,"v":2.5},{"t":24.02,"v":3.0},{"t":24.08,"v":0.4},{"t":24.13,"v":-1.5},{"t":24.19,"v":0.2},{"t":24.25,"v":-1.9},{"t":24.3,"v":-0.9},{"t":24.36,"v":-2.65},{"t":24.42,"v":-1.2},{"t":24.47,"v":-2.65},{"t":24.53,"v":-0.7},{"t":24.58,"v":-1.85},{"t":24.64,"v":-2.2},{"t":24.7,"v":-3.5},{"t":24.78,"v":-2.3},{"t":24.82,"v":-3.4},{"t":24.86,"v":-1.0},{"t":24.92,"v":-1.9},{"t":24.98,"v":0.2},
{"t":25.02,"v":-1.9},{"t":25.06,"v":0.2},{"t":25.1,"v":0.4},{"t":25.15,"v":-0.1},{"t":25.19,"v":0.3},{"t":25.24,"v":-0.5},{"t":25.28,"v":-0.9},{"t":25.32,"v":-0.95},{"t":25.36,"v":-1.9},{"t":25.44,"v":-1.4},{"t":25.48,"v":-2.0},{"t":25.53,"v":-3.1},{"t":25.57,"v":-0.8},{"t":25.61,"v":-2.2},{"t":25.66,"v":-2.7},{"t":25.7,"v":-2.4},{"t":25.74,"v":-1.65},{"t":25.78,"v":-1.9},{"t":25.83,"v":-0.35},{"t":25.87,"v":-1.9},{"t":25.92,"v":-0.8},{"t":25.96,"v":-1.9},{"t":26.0,"v":-0.3},{"t":26.04,"v":-1.1},{"t":26.08,"v":-0.1},{"t":26.13,"v":0.45},{"t":26.17,"v":-0.6},{"t":26.21,"v":0.8},{"t":26.25,"v":-1.1},{"t":26.3,"v":-2.85},{"t":26.33,"v":-3.5},{"t":26.37,"v":-4.0},{"t":26.41,"v":-2.7},{"t":26.45,"v":-3.9},{"t":26.49,"v":-1.7},{"t":26.52,"v":-2.6},{"t":26.56,"v":-1.0},{"t":26.6,"v":-1.5},{"t":26.64,"v":-0.3},{"t":26.68,"v":-1.0},{"t":26.72,"v":0.8},{"t":26.77,"v":0.85},{"t":26.82,"v":1.2},{"t":26.86,"v":2.5},{"t":26.9,"v":1.3},{"t":26.94,"v":2.2},{"t":26.98,"v":1.75},{"t":27.02,"v":2.2},{"t":27.06,"v":0.0},{"t":27.11,"v":-1.5},{"t":27.15,"v":0.1},{"t":27.2,"v":-0.8},{"t":27.24,"v":0.0},{"t":27.28,"v":-0.7},{"t":27.33,"v":0.3},{"t":27.39,"v":-0.1},{"t":27.43,"v":0.75},{"t":27.47,"v":-1.0},{"t":27.52,"v":1.0},{"t":27.56,"v":-1.4},{"t":27.6,"v":-1.0},{"t":27.67,"v":-2.6},{"t":27.72,"v":-1.2},{"t":27.76,"v":-2.6},{"t":27.8,"v":-0.9},{"t":27.84,"v":-2.1},{"t":27.9,"v":-0.3},{"t":27.95,"v":-0.8},{"t":28.0,"v":-0.2},{"t":28.03,"v":-0.45},{"t":28.07,"v":0.3},{"t":28.1,"v":-0.6},{"t":28.13,"v":0.9},{"t":28.16,"v":0.65},{"t":28.2,"v":-0.2},{"t":28.23,"v":-1.75},{"t":28.28,"v":-0.8},{"t":28.32,"v":-1.1},{"t":28.36,"v":-0.2},{"t":28.4,"v":-1.2},{"t":28.44,"v":-2.3},{"t":28.48,"v":-0.8},{"t":28.52,"v":-3.3},{"t":28.55,"v":-2.2},{"t":28.6,"v":-3.3},{"t":28.63,"v":-1.2},{"t":28.67,"v":-1.85},{"t":28.7,"v":0.1},{"t":28.75,"v":0.7},{"t":28.8,"v":4.8},{"t":28.85,"v":3.2},{"t":28.9,"v":4.5},{"t":28.93,"v":2.7},{"t":28.98,"v":1.3},{"t":29.02,"v":0.4},{"t":29.06,"v":0.8},{"t":29.11,"v":-0.1},{"t":29.16,"v":0.65},{"t":29.2,"v":0.0},{"t":29.26,"v":0.65},{"t":29.3,"v":-0.05},{"t":29.34,"v":1.3},{"t":29.38,"v":0.2},{"t":29.43,"v":1.2},{"t":29.47,"v":0.45},{"t":29.52,"v":2.0},{"t":29.56,"v":1.2},{"t":29.6,"v":1.8},{"t":29.64,"v":1.5},{"t":29.68,"v":1.8},{"t":29.72,"v":0.0},{"t":29.76,"v":0.9},{"t":29.79,"v":-0.9},{"t":29.83,"v":0.65},{"t":29.86,"v":-3.85},{"t":29.9,"v":-1.5},{"t":29.94,"v":-2.9},{"t":29.98,"v":-0.7},
{"t":30.0,"v":-0.5},{"t":30.04,"v":-0.6},{"t":30.09,"v":-0.3},{"t":30.13,"v":-0.65},{"t":30.2,"v":-0.5},{"t":30.24,"v":0.9},{"t":30.28,"v":0.1},{"t":30.33,"v":-1.5},{"t":30.37,"v":-0.4},{"t":30.41,"v":0.55},{"t":30.45,"v":1.6},{"t":30.49,"v":0.65},{"t":30.54,"v":1.7},{"t":30.58,"v":-0.85},{"t":30.64,"v":-0.5},{"t":30.69,"v":-1.4},{"t":30.73,"v":1.1},{"t":30.77,"v":-0.2},{"t":30.82,"v":1.1},{"t":30.86,"v":-0.3},{"t":30.9,"v":-1.5},{"t":30.93,"v":-0.3},{"t":30.98,"v":-2.1},{"t":31.05,"v":-0.55},{"t":31.09,"v":-1.2},{"t":31.13,"v":0.4},{"t":31.18,"v":-0.65},{"t":31.25,"v":-0.9},{"t":31.29,"v":-0.1},{"t":31.33,"v":0.65},{"t":31.37,"v":0.3},{"t":31.41,"v":1.85},{"t":31.46,"v":1.0},{"t":31.52,"v":0.1},{"t":31.56,"v":1.25},{"t":31.6,"v":1.85},{"t":31.64,"v":0.65},{"t":31.67,"v":-0.1},{"t":31.71,"v":0.65},{"t":31.75,"v":2.55},{"t":31.79,"v":1.8},{"t":31.83,"v":2.95},{"t":31.88,"v":1.1},{"t":31.92,"v":-1.5},{"t":31.96,"v":-1.0},{"t":32.0,"v":-2.1},{"t":32.04,"v":-0.9},{"t":32.08,"v":-3.05},{"t":32.12,"v":-1.0},{"t":32.16,"v":-2.4},{"t":32.2,"v":-1.1},{"t":32.23,"v":-3.05},{"t":32.27,"v":-1.5},{"t":32.3,"v":-3.1},{"t":32.36,"v":-1.9},{"t":32.42,"v":-0.1},{"t":32.46,"v":-0.75},{"t":32.49,"v":-0.7},{"t":32.53,"v":0.65},{"t":32.58,"v":1.65},{"t":32.63,"v":-0.3},{"t":32.67,"v":0.1},{"t":32.71,"v":-0.9},{"t":32.75,"v":-0.45},{"t":32.8,"v":-1.2},{"t":32.83,"v":-0.45},{"t":32.88,"v":-0.85},{"t":32.92,"v":0.3},{"t":32.96,"v":-0.8},{"t":33.0,"v":0.3},{"t":33.04,"v":-1.3},{"t":33.08,"v":-0.85},{"t":33.12,"v":-1.3},{"t":33.16,"v":-0.8},{"t":33.22,"v":-0.4},{"t":33.27,"v":0.3},{"t":33.32,"v":1.7},{"t":33.36,"v":0.4},{"t":33.42,"v":1.9},{"t":33.46,"v":0.9},{"t":33.5,"v":0.65},{"t":33.55,"v":1.2},{"t":33.59,"v":0.3},{"t":33.64,"v":1.3},{"t":33.7,"v":-0.2},{"t":33.75,"v":-1.35},{"t":33.8,"v":-1.4},{"t":33.87,"v":-1.3},{"t":33.94,"v":-1.3},{"t":34.0,"v":-1.15},{"t":34.03,"v":-1.25},{"t":34.08,"v":-0.5},{"t":34.14,"v":1.1},{"t":34.2,"v":-2.5},{"t":34.25,"v":-0.85},{"t":34.3,"v":-0.9},{"t":34.34,"v":-1.3},{"t":34.4,"v":-0.5},{"t":34.48,"v":-2.5},{"t":34.52,"v":2.0},{"t":34.57,"v":-2.6},{"t":34.6,"v":-1.0},{"t":34.64,"v":-1.5},{"t":34.7,"v":-1.6},{"t":34.75,"v":-0.85},{"t":34.79,"v":-1.55},{"t":34.83,"v":-0.6},{"t":34.88,"v":-1.9},{"t":34.92,"v":-0.8},{"t":34.96,"v":-1.3},{"t":35.0,"v":-0.5},
{"t":35.08,"v":-1.9},{"t":35.12,"v":-0.65},{"t":35.2,"v":-0.3},{"t":35.26,"v":-1.3},{"t":35.34,"v":-0.65},{"t":35.41,"v":0.15},{"t":35.49,"v":1.45},{"t":35.56,"v":0.65},{"t":35.64,"v":1.4},{"t":35.71,"v":0.15},{"t":35.79,"v":1.1},{"t":35.86,"v":1.9},{"t":35.92,"v":2.1},{"t":35.97,"v":1.7},{"t":36.02,"v":2.6},{"t":36.1,"v":1.0},{"t":36.14,"v":2.3},{"t":36.21,"v":-4.0},{"t":36.29,"v":-4.2},{"t":36.37,"v":-1.75},{"t":36.44,"v":-0.3},{"t":36.53,"v":-1.2},{"t":36.6,"v":1.05},{"t":36.72,"v":0.4},{"t":36.82,"v":1.0},{"t":36.91,"v":-2.1},{"t":36.99,"v":-1.2},{"t":37.07,"v":-0.4},{"t":37.17,"v":0.65},{"t":37.25,"v":-1.4},{"t":37.33,"v":-2.35},{"t":37.4,"v":-1.5},{"t":37.49,"v":0.55},{"t":37.57,"v":1.2},{"t":37.66,"v":1.45},{"t":37.75,"v":1.75},{"t":37.84,"v":1.45},{"t":37.92,"v":1.0},{"t":38.0,"v":-1.0},{"t":38.1,"v":0.4},{"t":38.19,"v":-2.8},{"t":38.27,"v":-3.0},{"t":38.36,"v":-1.65},{"t":38.45,"v":-0.7},{"t":38.54,"v":0.3},{"t":38.62,"v":-0.45},{"t":38.71,"v":0.75},{"t":38.78,"v":0.3},{"t":38.86,"v":0.35},{"t":38.94,"v":-0.45},{"t":39.03,"v":-1.1},{"t":39.09,"v":-2.2},{"t":39.17,"v":-1.2},{"t":39.27,"v":-0.1},{"t":39.35,"v":-2.8},{"t":39.41,"v":-0.1},{"t":39.5,"v":-1.5},{"t":39.58,"v":1.95},{"t":39.67,"v":2.8},{"t":39.76,"v":-2.0},{"t":39.85,"v":-0.25},{"t":39.94,"v":-1.2},{"t":40.0,"v":-0.6}
]
},
"layer": [
 {"data": {"name": "kalman"}, "mark": {"type": "line", "color": "#ff00ff", "strokeWidth": 1.2, "clip": true},
  "encoding": {
   "x": {"field": "v", "type": "quantitative", "scale": {"domain": [-8, 6], "reverse": true, "nice": false, "zero": false}, "axis": {"title": "innov. distance (m)", "values": [-8, -6, -4, -2, 0, 2, 4, 6]}},
   "y": {"field": "t", "type": "quantitative", "scale": {"domain": [0, 40], "nice": false}, "axis": {"title": "Temps (s)", "orient": "right", "values": [0, 5, 10, 15, 20, 25, 30, 35, 40]}},
   "order": {"field": "t"}}},
 {"data": {"name": "part"}, "mark": {"type": "line", "color": "#00ffff", "strokeWidth": 1.2, "clip": true},
  "encoding": {
   "x": {"field": "v", "type": "quantitative", "axis": {"title": "innov. distance (m)", "values": [-8, -6, -4, -2, 0, 2, 4, 6]}},
   "y": {"field": "t", "type": "quantitative", "axis": {"title": "Temps (s)", "orient": "right", "values": [0, 5, 10, 15, 20, 25, 30, 35, 40]}},
   "order": {"field": "t"}}},
 {"data": {"values": [{}]}, "mark": {"type": "text", "text": ["Kalman :", " ", "Particulaire :"], "angle": -90, "align": "left", "baseline": "middle", "lineHeight": 33, "font": "Liberation Serif", "fontStyle": "italic", "fontSize": 28, "color": "black"},
  "encoding": {"x": {"datum": -5.24, "type": "quantitative", "axis": {"title": "innov. distance (m)"}}, "y": {"datum": 21.0, "type": "quantitative", "axis": {"title": "Temps (s)", "orient": "right"}}}},
 {"data": {"values": [{}]}, "mark": {"type": "text", "text": ["moyenne", "écart - type", "moyenne", "écart - type"], "angle": -90, "align": "left", "baseline": "middle", "lineHeight": 33, "font": "Liberation Serif", "fontStyle": "italic", "fontSize": 28, "color": "black"},
  "encoding": {"x": {"datum": -5.24, "type": "quantitative", "axis": {"title": "innov. distance (m)"}}, "y": {"datum": 26.8, "type": "quantitative", "axis": {"title": "Temps (s)", "orient": "right"}}}},
 {"data": {"values": [{}]}, "mark": {"type": "text", "text": ["= -0,868 m", "= 2,24 m", "= -0,316 m", "= 1,81 m"], "angle": -90, "align": "left", "baseline": "middle", "lineHeight": 33, "font": "Liberation Serif", "fontStyle": "italic", "fontSize": 30, "color": "black"},
  "encoding": {"x": {"datum": -5.24, "type": "quantitative", "axis": {"title": "innov. distance (m)"}}, "y": {"datum": 31.75, "type": "quantitative", "axis": {"title": "Temps (s)", "orient": "right"}}}}
]
}
